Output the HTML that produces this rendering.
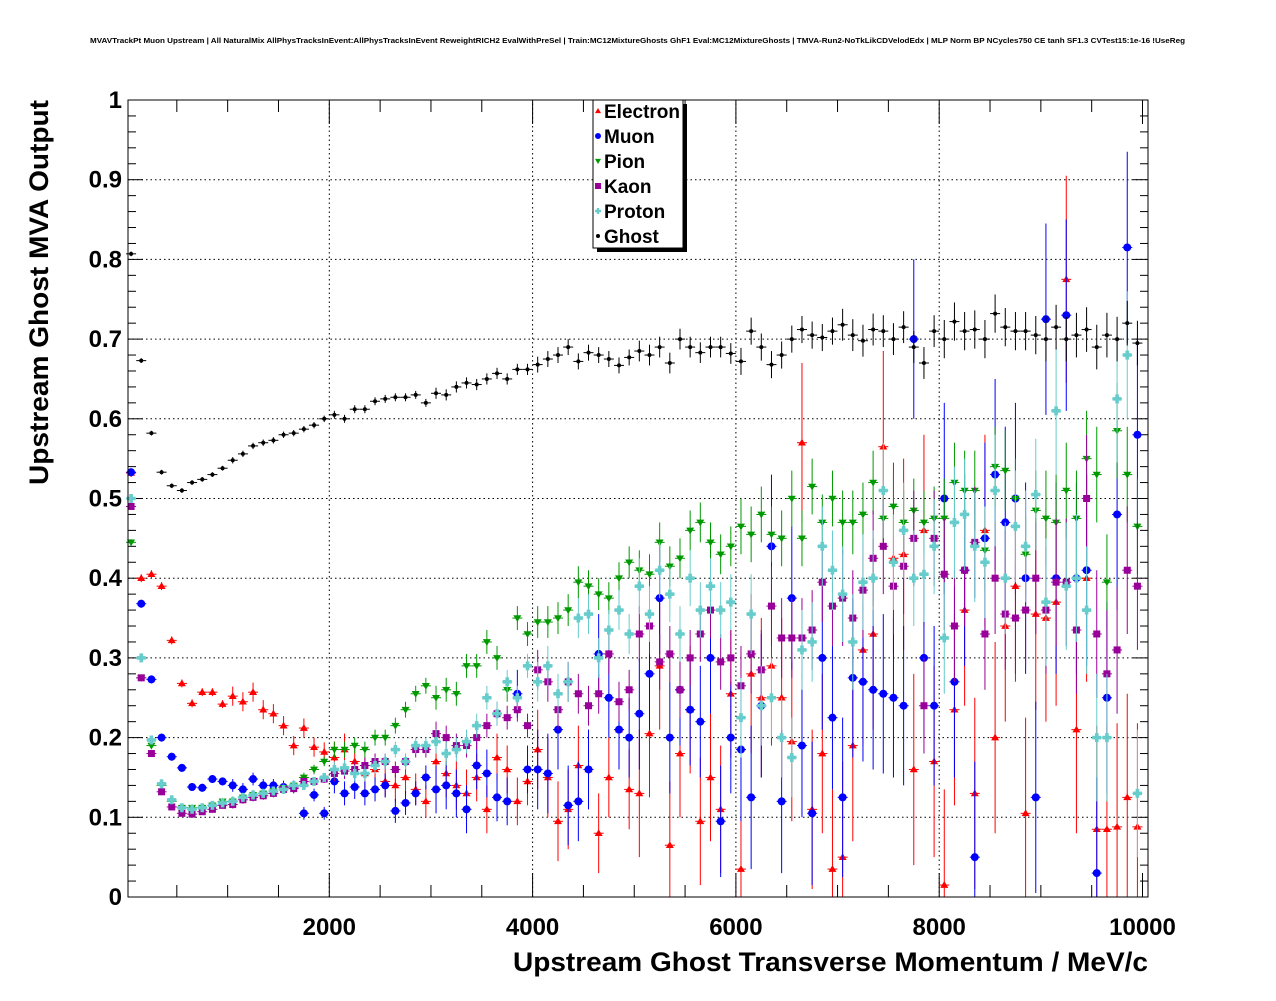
<!DOCTYPE html>
<html><head><meta charset="utf-8"><style>
body{margin:0;background:#fff;}
svg text{font-family:"Liberation Sans",Arial,sans-serif;}
</style></head><body>
<svg id="chart" width="1276" height="996" viewBox="0 0 1276 996" xmlns="http://www.w3.org/2000/svg">
<rect x="0" y="0" width="1276" height="996" fill="#fff"/>
<text x="90" y="43" font-size="7.5" font-weight="bold" textLength="1095" lengthAdjust="spacingAndGlyphs">MVAVTrackPt Muon Upstream | All NaturalMix AllPhysTracksInEvent:AllPhysTracksInEvent ReweightRICH2 EvalWithPreSel | Train:MC12MixtureGhosts GhF1 Eval:MC12MixtureGhosts | TMVA-Run2-NoTkLikCDVelodEdx | MLP Norm BP NCycles750 CE tanh SF1.3 CVTest15:1e-16 !UseReg</text>
<g id="grid"></g>
<g id="axes"></g>
<g id="marks"></g>
<rect x="128" y="100" width="1020" height="797" fill="none" stroke="#000" stroke-width="1"/>
<text x="513" y="971" font-size="27" font-weight="bold" textLength="635" lengthAdjust="spacingAndGlyphs">Upstream Ghost Transverse Momentum / MeV/c</text>
<text transform="translate(48,485) rotate(-90)" font-size="27" font-weight="bold" textLength="385" lengthAdjust="spacingAndGlyphs">Upstream Ghost MVA Output</text>
<g>
<rect x="597" y="104" width="90" height="148" fill="#000"/>
<rect x="593" y="100" width="90" height="148" fill="#fff" stroke="#000"/>
<g id="legend-items"></g>
</g>
</svg>
<script>
const categories=[];for(let i=0;i<100;i++)categories.push(50+100*i);
const electron=[0.532,0.400,0.405,0.390,0.322,0.268,0.243,0.257,0.257,0.242,0.252,0.245,0.257,0.235,0.230,0.215,0.190,0.212,0.188,0.182,0.175,0.185,0.170,0.155,0.160,0.145,0.140,0.150,0.135,0.120,0.170,0.155,0.140,0.130,0.150,0.110,0.175,0.160,0.120,0.145,0.185,0.150,0.095,0.110,0.165,0.160,0.080,0.150,0.210,0.135,0.130,0.205,0.290,0.065,0.180,0.235,0.095,0.150,0.110,0.255,0.035,0.280,0.250,0.290,0.250,0.195,0.570,0.110,0.180,0.035,0.050,0.190,0.310,0.330,0.565,0.425,0.430,0.160,0.460,0.170,0.015,0.235,0.360,0.130,0.460,0.200,0.340,0.390,0.105,0.355,0.350,0.370,0.775,0.210,0.400,0.085,0.085,0.088,0.125,0.088];
const muon=[0.533,0.368,0.273,0.200,0.176,0.162,0.138,0.137,0.148,0.145,0.140,0.135,0.148,0.140,0.140,0.138,0.138,0.105,0.128,0.105,0.145,0.130,0.138,0.130,0.135,0.140,0.108,0.118,0.130,0.150,0.135,0.140,0.130,0.110,0.165,0.155,0.125,0.120,0.255,0.160,0.160,0.155,0.210,0.115,0.120,0.160,0.305,0.250,0.210,0.200,0.230,0.280,0.375,0.200,0.260,0.235,0.220,0.300,0.095,0.200,0.185,0.125,0.240,0.440,0.120,0.375,0.190,0.105,0.300,0.225,0.125,0.275,0.270,0.260,0.255,0.250,0.240,0.700,0.300,0.240,0.500,0.270,0.410,0.050,0.450,0.530,0.470,0.500,0.400,0.125,0.725,0.400,0.730,0.400,0.410,0.030,0.250,0.480,0.815,0.580];
const pion=[0.445,0.275,0.190,0.140,0.120,0.112,0.112,0.112,0.115,0.120,0.120,0.125,0.128,0.130,0.133,0.137,0.140,0.150,0.160,0.170,0.185,0.185,0.190,0.185,0.200,0.200,0.215,0.235,0.255,0.265,0.250,0.260,0.255,0.290,0.290,0.320,0.300,0.260,0.350,0.330,0.345,0.345,0.350,0.360,0.395,0.390,0.380,0.375,0.400,0.420,0.410,0.405,0.445,0.415,0.425,0.460,0.470,0.445,0.430,0.440,0.465,0.455,0.480,0.455,0.450,0.500,0.450,0.515,0.470,0.500,0.470,0.470,0.480,0.520,0.475,0.490,0.470,0.485,0.470,0.475,0.475,0.520,0.510,0.510,0.435,0.540,0.535,0.500,0.430,0.485,0.475,0.470,0.510,0.475,0.550,0.530,0.395,0.585,0.530,0.465];
const kaon=[0.490,0.275,0.180,0.132,0.113,0.105,0.104,0.107,0.110,0.115,0.116,0.122,0.125,0.127,0.130,0.135,0.136,0.145,0.145,0.148,0.155,0.158,0.160,0.165,0.170,0.170,0.160,0.170,0.185,0.185,0.205,0.200,0.190,0.190,0.200,0.215,0.230,0.225,0.235,0.215,0.285,0.270,0.235,0.270,0.255,0.240,0.255,0.305,0.245,0.260,0.330,0.340,0.295,0.305,0.260,0.300,0.330,0.360,0.295,0.300,0.265,0.305,0.285,0.365,0.325,0.325,0.325,0.335,0.395,0.365,0.375,0.350,0.385,0.425,0.440,0.390,0.415,0.450,0.240,0.450,0.405,0.340,0.410,0.445,0.330,0.400,0.355,0.350,0.360,0.400,0.360,0.395,0.395,0.335,0.500,0.330,0.280,0.310,0.410,0.390];
const proton=[0.500,0.300,0.197,0.142,0.122,0.112,0.110,0.112,0.115,0.118,0.120,0.125,0.128,0.130,0.133,0.135,0.140,0.140,0.145,0.150,0.160,0.162,0.155,0.155,0.165,0.170,0.185,0.170,0.190,0.190,0.195,0.180,0.185,0.195,0.215,0.250,0.230,0.270,0.250,0.290,0.270,0.290,0.255,0.270,0.350,0.355,0.300,0.335,0.360,0.330,0.390,0.355,0.410,0.380,0.330,0.400,0.360,0.390,0.360,0.370,0.225,0.355,0.240,0.250,0.200,0.175,0.310,0.320,0.440,0.410,0.380,0.320,0.395,0.400,0.510,0.420,0.460,0.400,0.405,0.440,0.325,0.470,0.480,0.440,0.420,0.510,0.400,0.465,0.440,0.505,0.370,0.610,0.390,0.400,0.360,0.200,0.200,0.625,0.680,0.130];
const ghost=[0.807,0.673,0.582,0.533,0.516,0.510,0.520,0.524,0.530,0.538,0.548,0.556,0.566,0.570,0.573,0.580,0.582,0.587,0.592,0.600,0.605,0.600,0.612,0.612,0.622,0.625,0.627,0.627,0.630,0.620,0.632,0.630,0.640,0.645,0.643,0.650,0.657,0.650,0.662,0.662,0.668,0.675,0.680,0.690,0.672,0.683,0.680,0.675,0.667,0.677,0.685,0.680,0.690,0.670,0.700,0.690,0.683,0.690,0.690,0.682,0.672,0.710,0.690,0.668,0.680,0.700,0.712,0.705,0.702,0.710,0.718,0.705,0.698,0.712,0.710,0.700,0.715,0.690,0.670,0.710,0.700,0.722,0.710,0.712,0.700,0.732,0.715,0.710,0.710,0.705,0.700,0.715,0.700,0.705,0.712,0.690,0.705,0.700,0.720,0.695];
const errElectron=[0.005,0.012,0.02,0.03,0.05,0.08,0.1,0.12,0.12,0.13];
const errMuon=[0.005,0.008,0.015,0.03,0.05,0.07,0.09,0.1,0.12,0.12];
const errPion=[0.004,0.006,0.01,0.015,0.02,0.025,0.035,0.04,0.05,0.06];
const errKaon=[0.003,0.005,0.01,0.015,0.025,0.035,0.05,0.06,0.07,0.08];
const errProton=[0.003,0.005,0.01,0.015,0.025,0.035,0.05,0.06,0.07,0.08];
const errGhost=[0.003,0.004,0.005,0.007,0.01,0.013,0.017,0.02,0.024,0.028];
const xTickLabels=["2000","4000","6000","8000","10000"];
const yTickLabels=["0","0.1","0.2","0.3","0.4","0.5","0.6","0.7","0.8","0.9","1"];

const NS="http://www.w3.org/2000/svg";
const X0=128,X1=1148,Y0=897,Y1=100;
function xs(v){return 126+v*0.10165;}
function ys(v){return Y0-v*(Y0-Y1);}
function mk(tag,attrs,parent){const e=document.createElementNS(NS,tag);for(const k in attrs)e.setAttribute(k,attrs[k]);parent.appendChild(e);return e;}
const grid=document.getElementById('grid'),axes=document.getElementById('axes'),marks=document.getElementById('marks');

yTickLabels.forEach((t,i)=>{const v=parseFloat(t);const y=ys(v);
 if(i>0&&i<10){const g=mk('line',{x1:X0,x2:X1,y1:y,y2:y,stroke:'#000','stroke-dasharray':'1.5,3','stroke-width':1},grid);
 
 }
 const tx=mk('text',{x:122,y:y+8,'font-size':24,'font-weight':'bold','text-anchor':'end'},axes);tx.textContent=t;
 
 
});
for(let k=0;k<=50;k++){const v=k*0.02;const y=ys(v);const L=(k%5===0)?15:8;
 mk('line',{x1:X0,x2:X0+L,y1:y,y2:y,stroke:'#000'},axes);
 mk('line',{x1:X1,x2:X1-L,y1:y,y2:y,stroke:'#000'},axes);}
xTickLabels.forEach(t=>{const v=parseFloat(t);const x=xs(v);
 if(v<10000){const g=mk('line',{x1:x,x2:x,y1:Y0,y2:Y1,stroke:'#000','stroke-dasharray':'1.5,3','stroke-width':1},grid);
 
 }
 const tx=mk('text',{x:x,y:935,'font-size':24,'font-weight':'bold','text-anchor':'middle'},axes);tx.textContent=t;
 
 
});
for(let k=1;k<=20;k++){const v=k*500;const x=xs(v);if(x>X1)continue;const L=(k%4===0)?24:12;
 mk('line',{x1:x,x2:x,y1:Y0,y2:Y0-L,stroke:'#000'},axes);
 mk('line',{x1:x,x2:x,y1:Y1,y2:Y1+L,stroke:'#000'},axes);}

function marker(type,color,x,y,parent,s){
 if(type==='up')return mk('polygon',{points:`${x},${y-s} ${x-s},${y+s*0.7} ${x+s},${y+s*0.7}`,fill:color},parent);
 if(type==='down')return mk('polygon',{points:`${x},${y+s} ${x-s},${y-s*0.7} ${x+s},${y-s*0.7}`,fill:color},parent);
 if(type==='circle')return mk('circle',{cx:x,cy:y,r:s,fill:color},parent);
 if(type==='square')return mk('rect',{x:x-s,y:y-s,width:2*s,height:2*s,fill:color},parent);
 if(type==='cross'){const g=mk('g',{},parent);mk('rect',{x:x-s,y:y-s/2.5,width:2*s,height:2*s/2.5,fill:color},g);mk('rect',{x:x-s/2.5,y:y-s,width:2*s/2.5,height:2*s,fill:color},g);return g;}
 return mk('circle',{cx:x,cy:y,r:s,fill:color},parent);
}
const series=[
 {name:'Electron',vals:electron,err:errElectron,color:'#ff0000',type:'up',s:4},
 {name:'Muon',vals:muon,err:errMuon,color:'#0000ff',type:'circle',s:4},
 {name:'Pion',vals:pion,err:errPion,color:'#009900',type:'down',s:4},
 {name:'Kaon',vals:kaon,err:errKaon,color:'#990099',type:'square',s:3.5},
 {name:'Proton',vals:proton,err:errProton,color:'#66cccc',type:'cross',s:4.5},
 {name:'Ghost',vals:ghost,err:errGhost,color:'#000000',type:'dot',s:2}
];
series.forEach(sr=>{
 const g=mk('g',{},marks);
 
 
 sr.vals.forEach((v,i)=>{
  const cx=xs(categories[i]),cy=ys(v);
  const e=sr.err[Math.floor(categories[i]/1000)];
  const t=Math.max(ys(1),Math.min(ys(0),ys(v+e))),b=Math.max(ys(1),Math.min(ys(0),ys(v-e)));
  mk('line',{x1:cx,x2:cx,y1:t,y2:b,stroke:sr.color,'stroke-width':1},g);
  mk('line',{x1:cx-5,x2:cx+5,y1:cy,y2:cy,stroke:sr.color,'stroke-width':1},g);
  if(cy>=Y1-2&&cy<=Y0+2){const m=marker(sr.type,sr.color,cx,cy,g,sr.s);
  
  }
 });
});
const li=document.getElementById('legend-items');
series.forEach((sr,i)=>{
 const y=111+i*25;
 const g=mk('g',{},li);
 
 
 marker(sr.type,sr.color,598,y,g,sr.type==='dot'?2:3);
 const t=mk('text',{x:604,y:y+7,'font-size':19,'font-weight':'bold'},g);t.textContent=sr.name;
});
</script>
</body></html>
